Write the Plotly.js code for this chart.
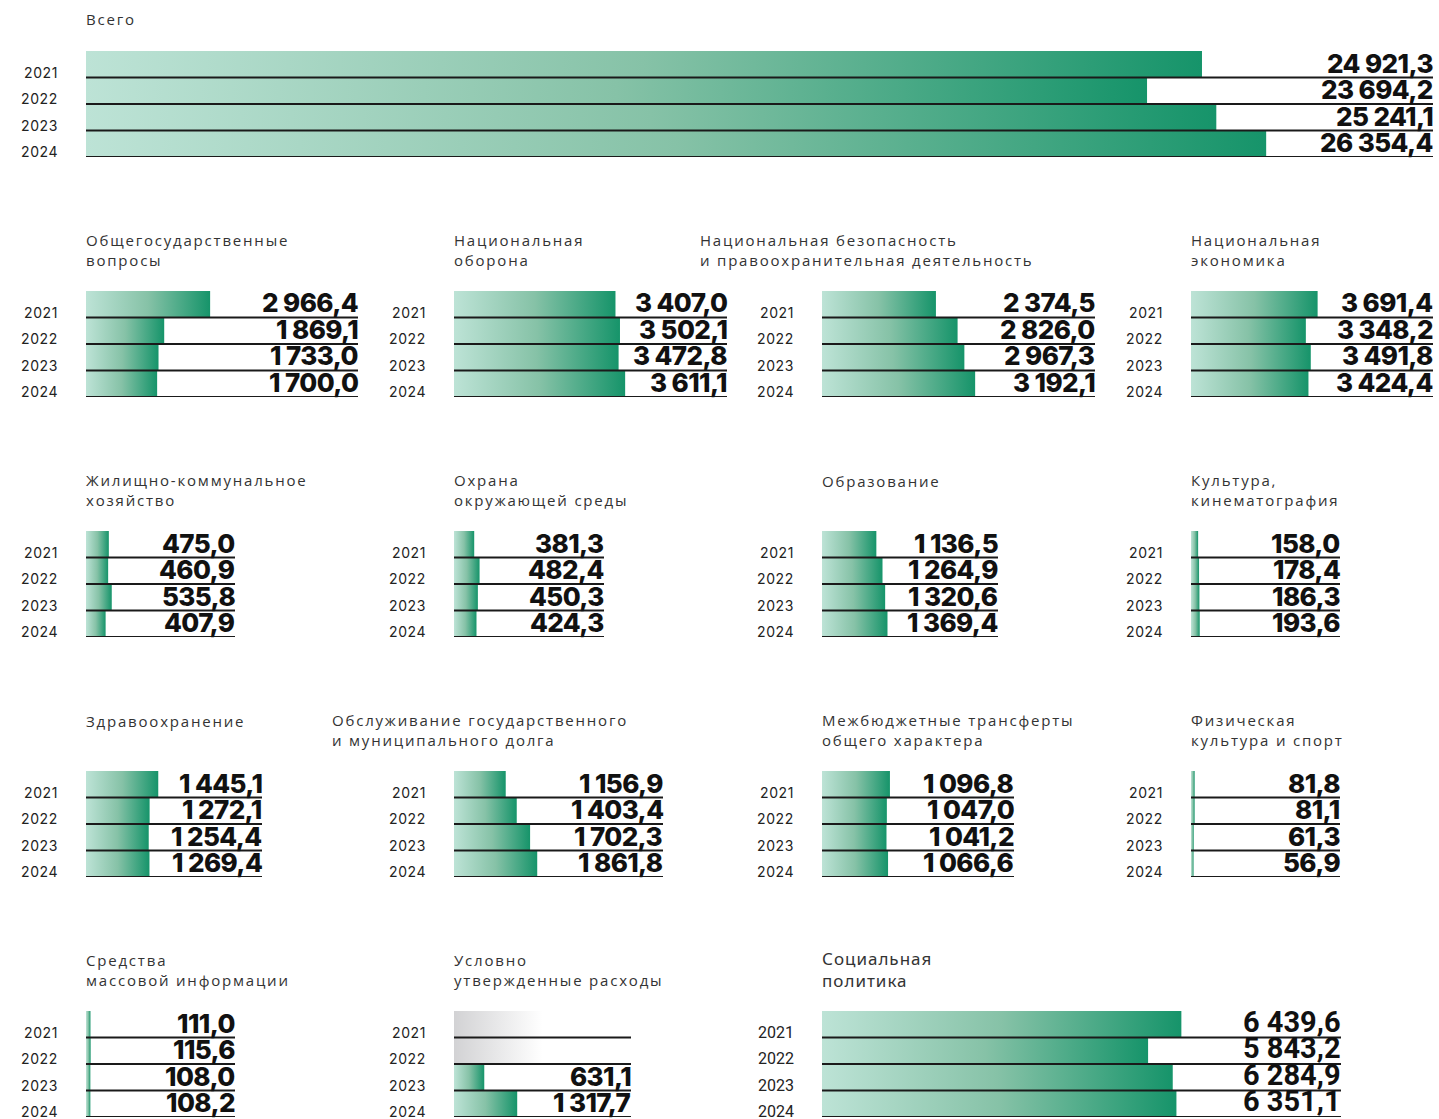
<!DOCTYPE html>
<html><head><meta charset="utf-8">
<script src="https://cdn.plot.ly/plotly-3.0.1.min.js"></script>
<style>
html,body{margin:0;padding:0;background:#fff;}
text.annotation-text[style*="font-size: 15px"]{letter-spacing:1.8px;}
text.annotation-text[style*="font-size: 17px"]{letter-spacing:1px;}
text.annotation-text[style*="font-size: 26px"]{letter-spacing:-0.6px;}
text.annotation-text[style*="font-size: 14px"]{letter-spacing:0.6px;}
</style></head>
<body><div id="chart" style="width:1439px;height:1119px"></div>
<script>
// ---------- DATA ----------
const years = ['2021', '2022', '2023', '2024'];
const categories = [
  'Всего',
  'Общегосударственные<br>вопросы',
  'Национальная<br>оборона',
  'Национальная безопасность<br>и правоохранительная деятельность',
  'Национальная<br>экономика',
  'Жилищно-коммунальное<br>хозяйство',
  'Охрана<br>окружающей среды',
  'Образование',
  'Культура,<br>кинематография',
  'Здравоохранение',
  'Обслуживание государственного<br>и муниципального долга',
  'Межбюджетные трансферты<br>общего характера',
  'Физическая<br>культура и спорт',
  'Средства<br>массовой информации',
  'Условно<br>утвержденные расходы',
  'Социальная<br>политика'
];
const total        = [24921.3, 23694.2, 25241.1, 26354.4];
const generalIssues= [2966.4, 1869.1, 1733.0, 1700.0];
const defense      = [3407.0, 3502.1, 3472.8, 3611.1];
const security     = [2374.5, 2826.0, 2967.3, 3192.1];
const economy      = [3691.4, 3348.2, 3491.8, 3424.4];
const housing      = [475.0, 460.9, 535.8, 407.9];
const environment  = [381.3, 482.4, 450.3, 424.3];
const education    = [1136.5, 1264.9, 1320.6, 1369.4];
const culture      = [158.0, 178.4, 186.3, 193.6];
const health       = [1445.1, 1272.1, 1254.4, 1269.4];
const debtService  = [1156.9, 1403.4, 1702.3, 1861.8];
const transfers    = [1096.8, 1047.0, 1041.2, 1066.6];
const sport        = [81.8, 81.1, 61.3, 56.9];
const media        = [111.0, 115.6, 108.0, 108.2];
const conditional  = [null, null, 631.1, 1317.7];
const social       = [6439.6, 5843.2, 6284.9, 6351.1];
const seriesList = [total, generalIssues, defense, security, economy, housing, environment,
  education, culture, health, debtService, transfers, sport, media, conditional, social];

// ---------- LAYOUT (pixel geometry per panel) ----------
const W = 1439, H = 1119, ROWH = 106;
const panels = [
  {l: 86,   r: 1433, top: 51,   tx: 86,   ty: 19,  R: 30080},
  {l: 86,   r: 358,  top: 291,  tx: 86,   ty: 250, R: 6500},
  {l: 454,  r: 727,  top: 291,  tx: 454,  ty: 250, R: 5760},
  {l: 822,  r: 1095, top: 291,  tx: 700,  ty: 250, R: 5690},
  {l: 1191, r: 1433, top: 291,  tx: 1191, ty: 250, R: 7055},
  {l: 86,   r: 235,  top: 531,  tx: 86,   ty: 490, R: 3100},
  {l: 454,  r: 604,  top: 531,  tx: 454,  ty: 490, R: 2830},
  {l: 822,  r: 998,  top: 531,  tx: 822,  ty: 481, R: 3680},
  {l: 1191, r: 1340, top: 531,  tx: 1191, ty: 490, R: 3300},
  {l: 86,   r: 262,  top: 771,  tx: 86,   ty: 721, R: 3520},
  {l: 454,  r: 663,  top: 771,  tx: 332,  ty: 730, R: 4675},
  {l: 822,  r: 1014, top: 771,  tx: 822,  ty: 730, R: 3100},
  {l: 1191, r: 1340, top: 771,  tx: 1191, ty: 730, R: 3300},
  {l: 86,   r: 235,  top: 1011, tx: 86,   ty: 970, R: 3700},
  {l: 454,  r: 631,  top: 1011, tx: 454,  ty: 970, R: 3690},
  {l: 822,  r: 1341, top: 1011, tx: 822,  ty: 970, R: 9300, alt: true}
];

const GREEN = [[0, '#bde3d6'], [0.5, '#86c2a7'], [1, '#16946a']];
const GREY = [[0, '#d2d2d4'], [1, '#ffffff']];

function fmt(v) {
  const s = v.toFixed(1).split('.');
  const int = s[0].replace(/\B(?=(\d{3})+(?!\d))/g, ' ');
  return int + ',' + s[1];
}

const traces = [], shapes = [], annotations = [];
const layout = {
  width: W, height: H,
  margin: {l: 0, r: 0, t: 0, b: 0, pad: 0},
  paper_bgcolor: '#ffffff', plot_bgcolor: 'rgba(0,0,0,0)',
  showlegend: false,
  font: {family: 'Inter, sans-serif', color: '#222'}
};

panels.forEach((p, k) => {
  const n = k + 1;
  const xid = n === 1 ? 'x' : 'x' + n;
  const yid = n === 1 ? 'y' : 'y' + n;
  const xkey = n === 1 ? 'xaxis' : 'xaxis' + n;
  const ykey = n === 1 ? 'yaxis' : 'yaxis' + n;
  layout[xkey] = {domain: [p.l / W, p.r / W], range: [0, p.R], visible: false, fixedrange: true, anchor: yid};
  layout[ykey] = {domain: [1 - (p.top + ROWH) / H, 1 - p.top / H], range: [4, 0], visible: false, fixedrange: true, anchor: xid};
  const vals = seriesList[k];
  const fam = p.alt ? 'Roboto, sans-serif' : 'Inter, sans-serif';

  vals.forEach((v, i) => {
    if (v === null) {
      const g = p.R * 0.5;
      traces.push({type: 'scatter', mode: 'lines', x: [0, g, g, 0, 0], y: [i, i, i + 1, i + 1, i],
        fill: 'toself', fillgradient: {type: 'horizontal', colorscale: GREY},
        line: {width: 0, color: 'rgba(0,0,0,0)'}, xaxis: xid, yaxis: yid, hoverinfo: 'skip'});
    } else {
      traces.push({type: 'scatter', mode: 'lines', x: [0, v, v, 0, 0], y: [i, i, i + 1, i + 1, i],
        fill: 'toself', fillgradient: {type: 'horizontal', colorscale: GREEN},
        line: {width: 0, color: 'rgba(0,0,0,0)'}, xaxis: xid, yaxis: yid, hoverinfo: 'skip'});
      annotations.push({xref: xid + ' domain', x: 1, xanchor: 'right', align: 'right', xshift: 2,
        yref: yid, y: i + 1, yanchor: 'bottom', yshift: -3, showarrow: false,
        text: fmt(v),
        font: p.alt ? {family: fam, size: 29, weight: 700, color: '#111'}
                    : {family: fam, size: 26, weight: 800, color: '#111'}});
    }
    shapes.push({type: 'line', xref: xid + ' domain', x0: 0, x1: 1, yref: yid, y0: i + 1, y1: i + 1,
      line: {color: '#1a1a1a', width: 2}});
    annotations.push({xref: xid + ' domain', x: 0, xshift: -26, xanchor: 'right', align: 'right',
      yref: yid, y: i + 0.5, yanchor: 'middle', yshift: -8, showarrow: false,
      text: years[i], font: p.alt ? {family: fam, size: 16, color: '#222'} : {family: fam, size: 14, color: '#222'}});
  });

  annotations.push({xref: 'paper', x: p.tx / W, xshift: -2, xanchor: 'left', align: 'left',
    yref: 'paper', y: 1 - p.ty / H, yanchor: 'middle', showarrow: false,
    text: categories[k],
    font: p.alt ? {family: 'Noto Sans, sans-serif', size: 17, color: '#333'}
                : {family: 'Open Sans, sans-serif', size: 15, color: '#333'}});
});

layout.shapes = shapes;
layout.annotations = annotations;
Plotly.newPlot('chart', traces, layout, {staticPlot: true, displayModeBar: false});
</script>
</body></html>
